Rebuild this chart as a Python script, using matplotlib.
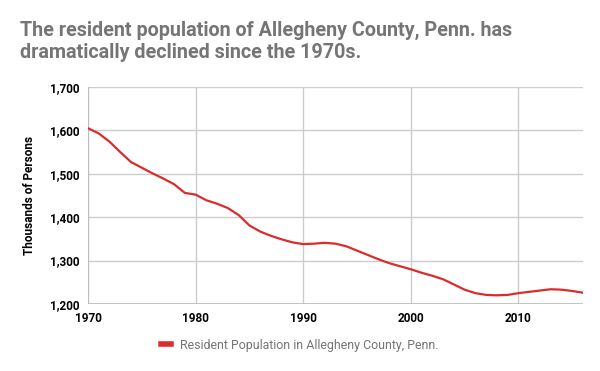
import matplotlib
matplotlib.use("Agg")
import matplotlib.pyplot as plt
from matplotlib.lines import Line2D

years = list(range(1970, 2017))
population = [1605, 1593, 1574, 1550, 1527, 1514, 1501, 1489, 1476, 1456,
              1452, 1439, 1431, 1421, 1405, 1381, 1367, 1357, 1349, 1342,
              1338, 1339, 1341, 1339, 1333, 1323, 1313, 1303, 1294, 1287,
              1280, 1272, 1265, 1257, 1245, 1233, 1225, 1221, 1220, 1221,
              1225, 1228, 1231, 1234, 1233, 1230, 1226]
xticks = [1970, 1980, 1990, 2000, 2010]
yticks = [1200, 1300, 1400, 1500, 1600, 1700]
title = "The resident population of Allegheny County, Penn. has\ndramatically declined since the 1970s."
series_name = "Resident Population in Allegheny County, Penn."
ylabel = "Thousands of Persons"

plt.rcParams['font.family'] = ['Roboto', 'DejaVu Sans']

fig = plt.figure(figsize=(6, 3.71), dpi=100)
ax = fig.add_axes([88/600, 1-304/371, (583-88)/600, (304-87)/371])

red = '#db2c2c'
ax.plot(years, population, color=red, lw=1.6, solid_joinstyle='round')
ax.set_xlim(1970, 2016)
ax.set_ylim(1200, 1700)
ax.set_xticks(xticks)
ax.set_yticks(yticks)
ax.set_yticklabels([f"{v:,}" for v in yticks])
ax.grid(True, color='#cccccc', lw=1)
ax.set_axisbelow(True)
for s in ax.spines.values():
    s.set_visible(False)
ax.axhline(1200, color='#bbbbbb', lw=1.2, zorder=1)
ax.axvline(1970, color='#bbbbbb', lw=1.2, zorder=1)
ax.tick_params(length=0, labelsize=8.5, labelcolor='#000000', pad=6)
for lab in ax.get_xticklabels() + ax.get_yticklabels():
    lab.set_fontweight('bold')
ax.set_ylabel(ylabel, fontsize=8.5, fontweight='bold', labelpad=10)

fig.text(20/600, 1-21/371, title, fontsize=14.2, fontweight='bold',
         color='#757575', va='top', ha='left', linespacing=1.18)

handle = Line2D([], [], color=red, lw=4)
fig.legend([handle], [series_name], loc='center', bbox_to_anchor=(0.5, 1-345/371),
           frameon=False, fontsize=8.9, labelcolor='#757575', handlelength=0.8,
           handletextpad=0.7)

fig.savefig('out.png', dpi=100)
